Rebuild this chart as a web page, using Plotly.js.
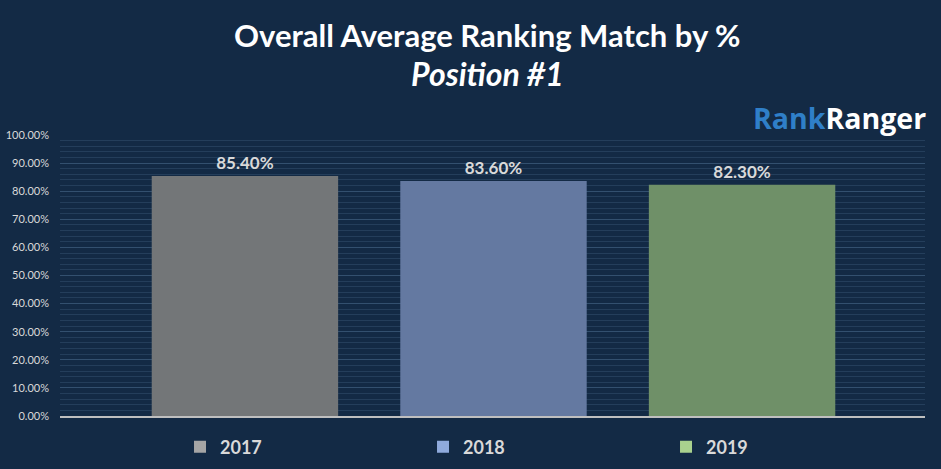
<!DOCTYPE html>
<html>
<head>
<meta charset="utf-8">
<script src="https://cdn.plot.ly/plotly-3.0.1.min.js"></script>
<style>html,body{margin:0;padding:0;background:#132a45;}#chart{width:941px;height:469px;}</style>
</head>
<body>
<div id="chart"></div>
<script>
// Data
var years = ['2017', '2018', '2019'];
var values = [85.4, 83.6, 82.3];
var barColors = ['#737678', '#6479a1', '#6f9068'];
var legendColors = ['#a5a5a5', '#8faadc', '#a9d18e'];
var yTickValues = [0, 10, 20, 30, 40, 50, 60, 70, 80, 90, 100];
var titleLine1 = 'Overall Average Ranking Match by %';
var titleLine2 = 'Position #1';

var traces = [];
traces.push({
  type: 'bar',
  x: years,
  y: values,
  width: 0.75,
  marker: {color: barColors, line: {width: 0}},
  text: values.map(function(v){ return v.toFixed(2) + '%'; }),
  textposition: 'outside',
  cliponaxis: false,
  textfont: {family: 'Lato, sans-serif', size: 17, color: '#d9d9d9', weight: 'bold'},
  showlegend: false,
  hoverinfo: 'x+y'
});
for (var i = 0; i < years.length; i++) {
  traces.push({
    type: 'bar',
    x: [years[i]],
    y: [null],
    name: years[i],
    marker: {color: legendColors[i]},
    showlegend: true,
    hoverinfo: 'skip'
  });
}

var layout = {
  width: 941,
  height: 469,
  paper_bgcolor: '#132a45',
  plot_bgcolor: '#132a45',
  margin: {l: 60, r: 16, t: 135, b: 53, pad: 0},
  barmode: 'overlay',
  xaxis: {
    type: 'category',
    range: [-0.744, 2.736],
    showticklabels: false,
    showgrid: false,
    zeroline: false,
    showline: true,
    linecolor: '#bfbfbf',
    linewidth: 1.5,
    ticks: '',
    fixedrange: true
  },
  yaxis: {
    range: [0, 100],
    tickvals: yTickValues,
    ticktext: yTickValues.map(function(v){ return v.toFixed(2) + '%'; }),
    tickfont: {family: 'Lato, sans-serif', size: 11, color: '#d9d9d9'},
    showgrid: true,
    gridcolor: '#33506f',
    gridwidth: 1,
    minor: {dtick: 2, showgrid: true, gridcolor: '#243e5b', gridwidth: 1},
    zeroline: false,
    showline: false,
    ticks: '',
    ticklabelstandoff: 10,
    fixedrange: true
  },
  legend: {
    orientation: 'h',
    xref: 'container',
    yref: 'container',
    x: 0.1913,
    xanchor: 'left',
    y: 0.047,
    yanchor: 'middle',
    entrywidth: 198,
    font: {family: 'Lato, sans-serif', size: 18, color: '#d9d9d9', weight: 'bold'},
    bgcolor: 'rgba(0,0,0,0)',
    itemclick: false,
    itemdoubleclick: false
  },
  annotations: [{
    xref: 'paper', yref: 'paper',
    x: 0.494, y: 1.3559,
    xanchor: 'center', yanchor: 'middle',
    showarrow: false,
    text: '<b>' + titleLine1 + '</b>',
    font: {family: 'Lato, sans-serif', size: 31, color: '#ffffff'}
  }, {
    xref: 'paper', yref: 'paper',
    x: 0.494, y: 1.2171,
    xanchor: 'center', yanchor: 'middle',
    showarrow: false,
    text: '<b><i>' + titleLine2 + '</i></b>',
    font: {family: 'Lato, sans-serif', size: 32, color: '#ffffff'}
  }, {
    xref: 'paper', yref: 'paper',
    x: 1.003, y: 1.062,
    xanchor: 'right', yanchor: 'middle',
    showarrow: false,
    text: '<b><span style="color:#2f7fc8">Rank</span>Ranger</b>',
    font: {family: '"Open Sans", sans-serif', size: 28.5, color: '#ffffff'}
  }],
  showlegend: true
};

Plotly.newPlot('chart', traces, layout, {displayModeBar: false, staticPlot: true});
</script>
</body>
</html>
